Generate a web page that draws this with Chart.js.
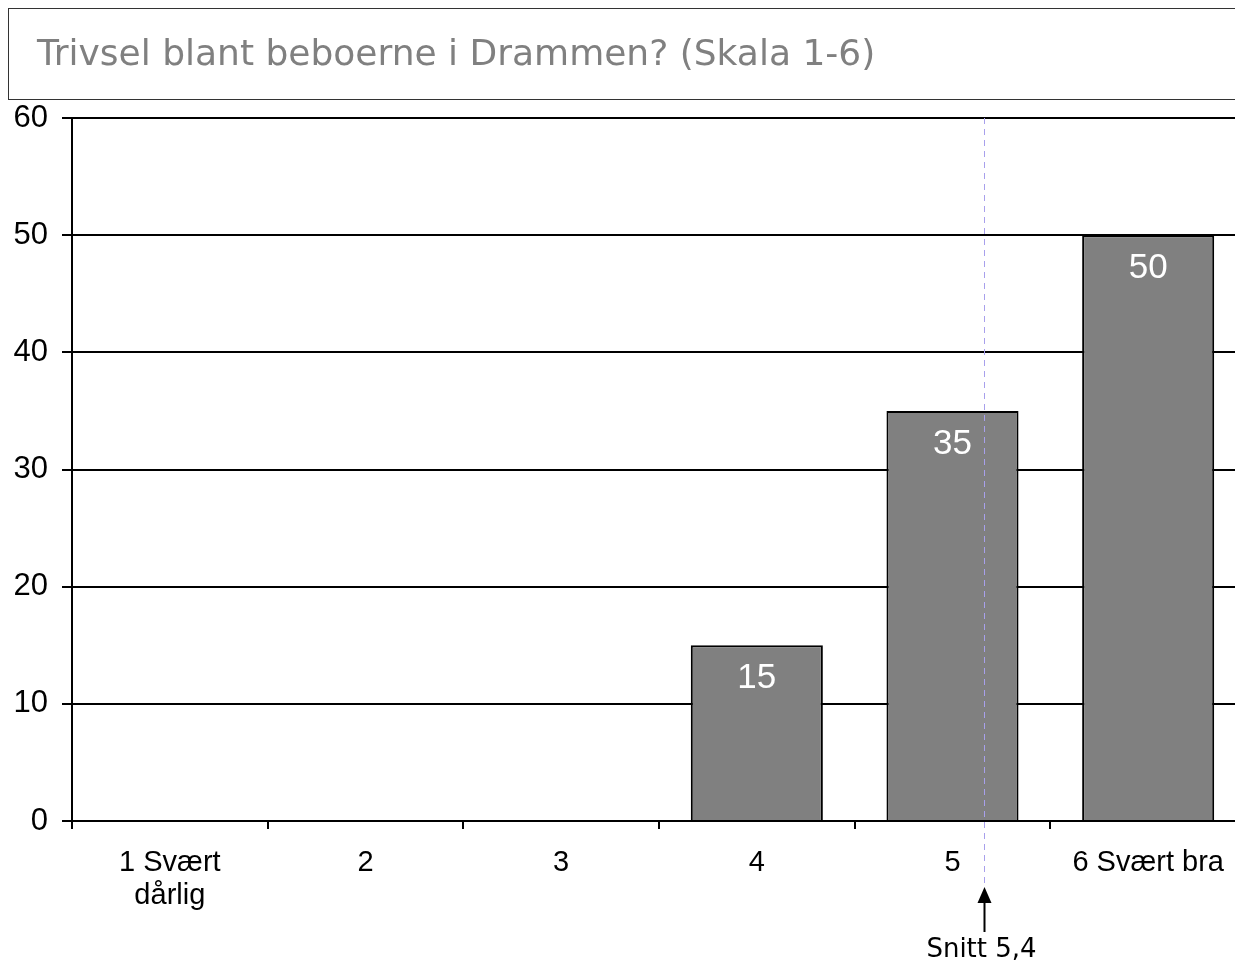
<!DOCTYPE html>
<html>
<head>
<meta charset="utf-8">
<script src="https://cdn.jsdelivr.net/npm/chart.js@4.4.1/dist/chart.umd.min.js"></script>
<style>
  html, body { margin: 0; padding: 0; background: #fff; overflow: hidden; }
  #wrap { width: 1260px; height: 962px; }
</style>
</head>
<body>
<div id="wrap"><canvas id="chart" width="1260" height="962"></canvas></div>
<script>
// Trivsel blant beboerne i Drammen? – fordeling skala 1-6

const titleText = "Trivsel blant beboerne i Drammen? (Skala 1-6)";
const categories = [["1 Svært", "dårlig"], "2", "3", "4", "5", "6 Svært bra"];
const shares = [0, 0, 0, 15, 35, 50];
const yTicks = [0, 10, 20, 30, 40, 50, 60];
const snittText = "Snitt 5,4";
const snittPos = [4.16]; // where the average marker sits on the category axis

// title box at the top
const titleBox = {
  id: "titleBox",
  afterDraw(chart) {
    const ctx = chart.ctx;
    ctx.save();
    ctx.strokeStyle = "#333";
    ctx.lineWidth = 1;
    ctx.strokeRect(8.5, 8.5, 1400, 91);
    ctx.fillStyle = "#808080";
    ctx.font = "36px 'DejaVu Sans'";
    ctx.textAlign = "left";
    ctx.textBaseline = "alphabetic";
    ctx.fillText(titleText, 37, 65);
    ctx.restore();
  },
};

// white value labels inside the bars
const barValues = {
  id: "barValues",
  afterDatasetsDraw(chart) {
    const ctx = chart.ctx;
    const meta = chart.getDatasetMeta(0);
    ctx.save();
    ctx.fillStyle = "#fff";
    ctx.font = "35px 'Liberation Sans'";
    ctx.textAlign = "center";
    ctx.textBaseline = "middle";
    meta.data.forEach((bar, i) => {
      const v = shares[i];
      if (!v) return;
      ctx.fillText(String(v), bar.x, bar.y + 33);
    });
    ctx.restore();
  },
};

// dashed average line + arrow + caption
const snittMarker = {
  id: "snittMarker",
  afterDraw(chart) {
    const ctx = chart.ctx;
    const area = chart.chartArea;
    const x = Math.round(chart.scales.x.getPixelForValue(snittPos[0])) + 0.5;
    const tipY = 887;
    ctx.save();
    ctx.strokeStyle = "#a8a0ec";
    ctx.lineWidth = 1;
    ctx.setLineDash([6, 5]);
    ctx.beginPath();
    ctx.moveTo(x, area.top);
    ctx.lineTo(x, tipY);
    ctx.stroke();
    ctx.setLineDash([]);
    // arrow
    ctx.fillStyle = "#000";
    ctx.beginPath();
    ctx.moveTo(x, tipY);
    ctx.lineTo(x - 7, tipY + 16);
    ctx.lineTo(x + 7, tipY + 16);
    ctx.closePath();
    ctx.fill();
    ctx.strokeStyle = "#000";
    ctx.lineWidth = 2;
    ctx.beginPath();
    ctx.moveTo(x, tipY + 14);
    ctx.lineTo(x, tipY + 45);
    ctx.stroke();
    ctx.font = "26px 'DejaVu Sans'";
    ctx.textAlign = "center";
    ctx.textBaseline = "alphabetic";
    ctx.fillText(snittText, x - 3, 957);
    ctx.restore();
  },
};

new Chart(document.getElementById("chart"), {
  type: "bar",
  data: {
    labels: categories,
    datasets: [
      {
        data: shares,
        backgroundColor: "#808080",
        borderColor: "#000",
        borderWidth: 2,
        barPercentage: 0.675,
        categoryPercentage: 1,
      },
    ],
  },
  options: {
    responsive: false,
    animation: false,
    layout: { padding: { top: 118, right: 14, left: 0, bottom: 0 } },
    plugins: {
      legend: { display: false },
      tooltip: { enabled: false },
      title: { display: false },
    },
    scales: {
      x: {
        offset: true,
        afterFit(scale) {
          scale.height = 141;
        },
        grid: {
          offset: true,
          drawOnChartArea: false,
          drawTicks: true,
          tickLength: 8,
          color: "#000",
          lineWidth: 2,
        },
        border: { display: true, color: "#000", width: 2 },
        ticks: {
          color: "#000",
          font: { family: "'Liberation Sans'", size: 29, lineHeight: 1.14 },
          padding: 17,
          maxRotation: 0,
          autoSkip: false,
        },
      },
      y: {
        min: 0,
        max: 60,
        afterFit(scale) {
          scale.width = 72;
        },
        afterBuildTicks(scale) {
          scale.ticks = yTicks.map((v) => ({ value: v }));
        },
        grid: {
          color: "#000",
          lineWidth: 2,
          tickLength: 10,
        },
        border: { display: true, color: "#000", width: 2 },
        ticks: {
          color: "#000",
          font: { family: "'Liberation Sans'", size: 31 },
          padding: 14,
        },
      },
    },
  },
  plugins: [titleBox, barValues, snittMarker],
});
</script>
</body>
</html>
